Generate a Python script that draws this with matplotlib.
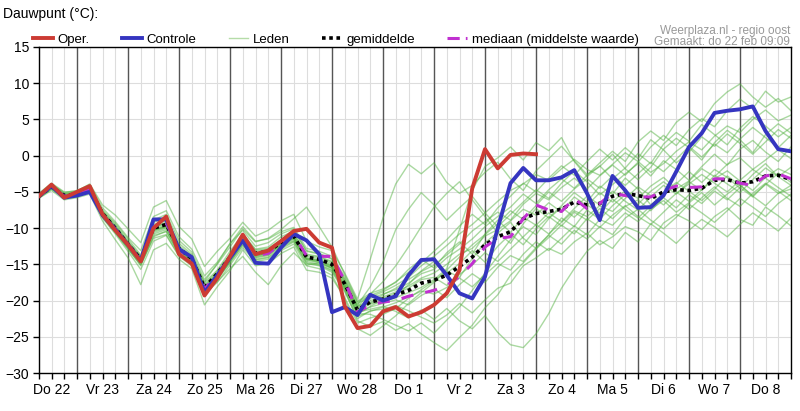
import matplotlib
matplotlib.use("Agg")
import matplotlib.pyplot as plt
from matplotlib.lines import Line2D
import numpy as np

plt.rcParams["font.family"] = ["Liberation Sans", "DejaVu Sans"]

# Axe du temps : heures depuis do 22 00h, pas de 6 h
heures = np.arange(6, 361, 6)
jours = ["Do 22", "Vr 23", "Za 24", "Zo 25", "Ma 26", "Di 27", "Wo 28", "Do 1",
         "Vr 2", "Za 3", "Zo 4", "Ma 5", "Di 6", "Wo 7", "Do 8"]

# Run opérationnel (s'arrête à zo 4 00h)
oper = [-5.6, -4.0, -5.8, -5.0, -4.2, -8.1, -10.3, -12.3, -14.6, -10.0, -8.4, -13.6, -14.9, -19.3, -16.9, -13.9,
        -10.9, -13.6, -13.1, -11.8, -10.4, -10.1, -12.0, -12.7, -20.8, -23.8, -23.5, -21.5, -20.9, -22.2, -21.6,
        -20.6, -19.0, -15.8, -4.5, 0.9, -1.75, 0.1, 0.3, 0.2]

controle = [-5.6, -4.2, -5.8, -5.5, -5.0, -8.2, -10.2, -12.3, -14.5, -8.8, -8.8, -12.9, -14.0, -18.9, -16.5, -14.1,
            -11.7, -14.8, -14.9, -12.7, -10.8, -11.7, -13.6, -21.6, -20.9, -22.0, -19.2, -20.0, -19.4, -16.5, -14.4,
            -14.3, -16.5, -19.0, -19.7, -16.7, -10.0, -3.8, -1.7, -3.4, -3.4, -3.0, -2.0, -5.2, -8.9,
            -2.8, -4.8, -7.2, -7.1, -5.5, -2.2, 1.2, 3.1, 5.9, 6.2, 6.4, 6.8, 3.4, 0.9, 0.6]

gemiddelde = [-5.6, -4.3, -5.5, -5.3, -4.6, -8.0, -10.0, -12.2, -14.3, -10.0, -9.5, -12.8, -14.2, -18.2, -16.3, -14.0,
              -11.5, -13.5, -13.2, -12.0, -11.1, -14.0, -14.3, -15.0, -17.7, -21.3, -20.2, -19.8, -19.2, -18.6, -17.6,
              -17.2, -16.5, -15.3, -14.0, -12.3, -11.2, -10.5, -8.7, -8.0, -7.7, -7.4, -6.4, -6.8, -6.6,
              -5.6, -5.2, -5.5, -5.9, -5.0, -4.7, -4.8, -4.5, -3.4, -3.3, -3.8, -3.6, -2.8, -2.7, -3.3]

mediaan = [-5.6, -4.2, -5.6, -5.3, -4.7, -8.1, -10.1, -12.3, -14.4, -9.6, -9.3, -13.0, -14.3, -18.4, -16.4, -14.1,
           -11.4, -13.8, -13.5, -12.1, -10.9, -13.8, -13.9, -13.9, -17.3, -21.6, -20.6, -20.2, -20.0, -19.4, -19.0,
           -18.6, -17.9, -16.7, -14.9, -12.6, -11.4, -11.2, -8.7, -6.8, -7.5, -7.7, -5.9, -7.3, -6.6,
           -5.2, -5.5, -5.7, -5.7, -4.8, -4.2, -4.4, -4.3, -3.2, -3.2, -3.8, -4.1, -2.8, -2.5, -3.2]

# Membres de l'ensemble (estimés à l'oeil)
leden = [
    [-5.4, -4.0, -5.2, -5.0, -4.3, -7.6, -9.5, -11.8, -13.9, -9.2, -8.6, -12.1, -13.6, -17.5, -15.8, -13.2,
     -10.8, -12.9, -12.6, -11.2, -10.4, -13.1, -13.5, -14.2, -17.0, -20.4, -19.5, -18.8, -17.9, -16.8, -15.2,
     -13.9, -12.4, -10.8, -9.5, -7.9, -6.3, -4.8, -3.9, -2.6, -3.4, -1.8, -0.5, -1.9, -2.7,
     -1.2, 0.4, -0.8, -2.3, -1.1, 0.6, 1.9, 0.8, 2.7, 4.1, 3.2, 5.0, 6.3, 4.8, 5.6],
    [-5.8, -4.6, -5.9, -5.7, -5.0, -8.5, -10.6, -12.9, -15.1, -11.2, -10.4, -13.6, -14.9, -18.9, -17.0, -14.8,
     -12.3, -14.4, -14.1, -12.9, -11.9, -14.9, -15.2, -16.1, -18.8, -22.5, -21.4, -21.2, -20.7, -21.4, -22.3,
     -23.1, -22.0, -20.4, -21.7, -19.9, -18.3, -17.6, -15.2, -14.1, -12.8, -13.6, -11.9, -10.7, -12.3,
     -11.2, -9.8, -10.5, -11.7, -9.3, -8.1, -9.0, -10.2, -8.4, -7.2, -8.8, -9.6, -7.1, -8.3, -9.7],
    [-5.2, -3.8, -5.0, -4.9, -3.9, -6.8, -8.2, -10.1, -12.0, -7.1, -6.2, -9.8, -11.5, -15.3, -13.2, -11.4,
     -9.2, -11.1, -10.3, -9.0, -8.1, -11.8, -12.6, -13.1, -16.2, -19.8, -14.3, -8.6, -3.9, -1.2, -2.5,
     -1.0, -3.7, -5.2, -4.1, -2.3, -0.9, -3.2, -4.8, -2.1, -0.4, 1.3, -0.7, -2.6, -1.5,
     0.2, -1.8, -3.3, -1.6, 0.9, 2.4, 1.1, -0.6, 1.8, 3.5, 2.2, 0.4, 2.9, 4.4, 3.1],
    [-5.9, -4.8, -6.1, -5.8, -5.3, -9.0, -11.6, -14.1, -17.8, -13.0, -12.1, -14.3, -15.6, -20.6, -18.1, -15.9,
     -13.0, -15.2, -14.9, -13.5, -12.6, -15.8, -16.1, -16.9, -19.6, -23.1, -22.4, -21.9, -21.1, -19.7, -18.5,
     -17.3, -15.9, -16.8, -14.2, -12.0, -10.6, -12.1, -9.4, -7.3, -8.6, -6.9, -5.1, -6.4, -4.2,
     -5.3, -3.1, -4.6, -6.8, -5.5, -3.9, -2.2, -3.7, -1.9, -3.0, -4.5, -2.6, -1.1, -2.9, -4.1],
    [-5.7, -4.4, -5.6, -5.4, -4.8, -8.3, -10.4, -12.6, -14.8, -10.8, -10.2, -13.4, -15.1, -19.0, -17.2, -14.6,
     -12.0, -14.1, -13.8, -12.5, -11.7, -14.6, -15.0, -15.8, -18.5, -22.8, -23.6, -22.9, -24.1, -23.2, -24.6,
     -25.8, -26.9, -25.1, -23.4, -21.0, -19.2, -16.5, -14.8, -12.9, -11.3, -9.6, -10.8, -8.7, -9.9,
     -8.2, -6.9, -8.4, -9.5, -7.8, -6.1, -7.4, -5.8, -4.3, -5.9, -7.0, -5.2, -3.8, -4.9, -6.2],
    [-5.5, -4.2, -5.4, -5.2, -4.5, -7.8, -9.8, -12.0, -14.1, -9.8, -9.2, -12.6, -14.0, -18.0, -16.1, -13.8,
     -11.2, -13.2, -12.9, -11.7, -10.8, -13.7, -14.0, -14.7, -17.4, -21.0, -20.3, -19.2, -18.3, -17.1, -16.0,
     -15.1, -13.7, -12.2, -10.4, -9.1, -7.8, -8.9, -6.7, -5.2, -6.1, -4.4, -3.1, -4.6, -2.8,
     -1.3, -2.7, -0.9, 1.2, 2.8, 1.4, 3.6, 5.1, 4.0, 6.2, 7.8, 6.5, 8.9, 7.4, 8.1],
    [-5.6, -4.5, -5.7, -5.5, -4.7, -8.2, -10.2, -12.4, -14.5, -10.4, -9.9, -13.1, -14.5, -18.6, -16.6, -14.3,
     -11.9, -13.9, -13.5, -12.3, -11.4, -14.3, -14.6, -15.4, -18.1, -21.7, -20.9, -20.4, -19.9, -20.6, -19.3,
     -18.4, -19.6, -17.8, -16.3, -17.5, -15.4, -13.8, -14.6, -12.7, -11.0, -12.2, -10.3, -11.5, -9.8,
     -10.9, -8.6, -7.4, -8.9, -10.1, -8.5, -6.7, -7.9, -9.2, -7.6, -5.9, -7.1, -8.4, -6.6, -5.3],
    [-5.6, -4.1, -5.5, -5.2, -4.4, -7.9, -9.9, -12.1, -14.2, -9.9, -9.4, -12.7, -14.1, -18.1, -16.2, -14.0,
     -11.4, -13.4, -13.1, -11.9, -11.0, -13.9, -14.2, -14.9, -17.6, -21.4, -20.5, -20.1, -19.6, -18.9, -18.2,
     -17.1, -15.6, -10.2, -4.8, -1.5, -0.3, 1.2, -0.6, 1.8, 0.7, 2.5, -0.8, -2.9, -1.4,
     -3.2, -1.7, 0.3, -1.1, 1.6, 3.2, 2.0, 4.3, 2.9, 1.5, 3.8, 5.4, 4.1, 2.6, 3.9],
    [-5.5, -4.3, -5.3, -5.4, -4.6, -8.0, -10.1, -12.2, -14.0, -10.3, -9.7, -12.9, -14.4, -18.3, -16.4, -14.2,
     -11.7, -13.6, -13.3, -12.0, -11.2, -14.1, -14.4, -15.1, -17.8, -21.2, -20.0, -19.5, -18.8, -18.0, -16.9,
     -16.2, -15.0, -13.6, -12.8, -11.1, -10.2, -9.0, -7.4, -8.2, -6.5, -7.8, -5.7, -6.9, -5.1,
     -6.4, -4.8, -5.9, -4.2, -3.0, -4.6, -3.5, -1.8, -2.9, -1.2, -0.3, -1.9, -0.6, 0.8, -0.4],
    [-5.8, -4.4, -5.8, -5.6, -4.9, -8.4, -10.5, -12.8, -15.0, -11.4, -10.9, -13.8, -14.7, -18.8, -17.4, -15.6,
     -13.9, -16.1, -17.8, -15.2, -13.4, -15.1, -14.8, -15.5, -18.2, -20.6, -18.1, -14.7, -10.2, -7.4, -5.1,
     -6.8, -8.9, -7.2, -5.6, -7.9, -9.8, -8.1, -6.4, -4.7, -5.9, -3.8, -2.1, -3.6, -5.4,
     -4.0, -2.5, -1.1, -2.8, -0.7, -1.9, -3.4, -1.5, 0.2, -1.3, 0.9, 2.1, 0.5, -0.8, 1.2],
    [-5.4, -4.2, -5.5, -5.3, -4.6, -8.1, -10.0, -12.1, -14.3, -10.1, -9.6, -12.9, -14.3, -18.4, -16.5, -14.1,
     -11.6, -13.7, -13.4, -12.2, -11.3, -14.2, -14.5, -15.3, -18.0, -21.6, -21.2, -20.8, -21.5, -22.4, -21.3,
     -22.6, -21.1, -22.8, -23.9, -22.1, -24.4, -26.1, -26.5, -24.6, -21.8, -18.3, -15.6, -13.2, -11.7,
     -12.8, -10.6, -11.9, -9.4, -10.7, -12.1, -10.3, -8.8, -9.9, -11.2, -9.5, -7.9, -9.1, -10.4, -8.6],
    [-5.6, -4.3, -5.4, -5.1, -4.5, -7.7, -9.7, -11.9, -14.0, -9.5, -9.0, -12.4, -13.8, -17.8, -15.9, -13.6,
     -11.0, -13.0, -12.8, -11.6, -10.7, -13.6, -13.9, -14.6, -17.3, -20.9, -19.7, -19.1, -18.5, -17.6, -16.3,
     -15.7, -14.1, -12.9, -11.5, -9.8, -8.4, -7.1, -5.3, -6.6, -4.7, -3.2, -4.5, -2.7, -1.0,
     0.6, -0.8, 1.9, 3.4, 2.1, 4.6, 6.0, 4.7, 7.2, 8.8, 9.9, 8.1, 6.7, 7.9, 6.2],
    [-5.7, -4.5, -5.6, -5.6, -4.8, -8.3, -10.3, -12.5, -14.7, -10.6, -10.0, -13.2, -14.6, -18.5, -16.8, -14.5,
     -12.1, -14.0, -13.7, -12.4, -11.5, -14.4, -14.8, -15.6, -18.3, -21.9, -20.8, -19.9, -19.4, -17.8, -15.9,
     -14.6, -16.2, -14.9, -13.1, -14.7, -12.5, -10.8, -12.3, -10.1, -8.4, -9.7, -7.8, -8.9, -7.3,
     -8.7, -7.0, -6.1, -7.6, -5.8, -7.2, -5.4, -6.6, -4.9, -6.1, -4.4, -5.7, -3.9, -5.2, -4.6],
    [-5.3, -4.1, -5.3, -5.1, -4.4, -7.5, -9.3, -11.5, -13.7, -8.9, -8.1, -11.7, -13.3, -17.1, -15.0, -12.6,
     -10.1, -11.9, -11.4, -10.2, -8.7, -7.1, -9.8, -12.6, -16.4, -20.1, -19.0, -18.4, -17.5, -15.7, -14.3,
     -15.5, -13.4, -11.9, -13.6, -10.8, -8.9, -10.6, -8.5, -9.6, -7.9, -9.1, -7.3, -5.6, -6.8,
     -4.9, -6.3, -7.5, -5.7, -4.1, -5.3, -3.6, -4.8, -2.7, -3.9, -5.1, -3.3, -1.7, -2.9, -1.6],
    [-5.5, -4.4, -5.6, -5.3, -4.7, -8.1, -10.0, -12.3, -14.4, -10.2, -9.8, -13.0, -14.4, -18.2, -16.4, -14.1,
     -11.6, -13.6, -13.3, -12.1, -11.3, -14.2, -14.5, -15.2, -17.9, -20.8, -19.1, -17.4, -15.2, -12.6, -9.8,
     -7.1, -5.2, -3.6, -6.1, -8.4, -10.7, -9.2, -11.4, -12.8, -10.9, -8.6, -9.8, -7.5, -8.8,
     -6.9, -5.4, -6.7, -4.9, -3.6, -5.0, -6.3, -4.7, -3.2, -2.1, -3.5, -4.8, -3.0, -1.8, -2.6],
    [-5.9, -4.6, -5.8, -5.6, -5.0, -8.6, -10.8, -13.2, -15.7, -11.8, -11.0, -13.9, -15.2, -19.1, -17.5, -15.1,
     -12.7, -14.6, -14.3, -13.1, -12.2, -15.2, -15.6, -16.5, -19.8, -23.9, -24.8, -23.5, -22.1, -20.4, -18.9,
     -17.5, -15.8, -14.0, -12.3, -10.9, -9.4, -7.6, -8.8, -6.9, -5.0, -6.3, -4.6, -3.2, -4.5,
     -2.8, -4.1, -2.5, -0.9, -2.2, -0.5, 1.3, -0.2, 1.6, 0.4, 2.3, 3.9, 2.5, 1.1, 2.8],
    [-5.7, -4.5, -5.7, -5.4, -4.8, -8.4, -10.6, -12.8, -15.2, -11.0, -10.5, -13.5, -14.8, -18.7, -16.9, -14.7,
     -12.4, -14.3, -14.0, -12.7, -11.8, -14.8, -15.1, -15.9, -18.6, -22.2, -21.5, -20.9, -20.3, -19.5, -18.7,
     -19.1, -18.2, -16.9, -18.1, -16.4, -14.9, -15.8, -13.6, -11.9, -13.1, -11.4, -9.7, -10.9, -8.8,
     -9.6, -7.9, -9.1, -7.4, -6.2, -7.8, -6.5, -5.1, -6.8, -5.3, -4.0, -5.6, -6.9, -5.2, -4.1],
    [-5.3, -3.9, -5.1, -4.8, -4.0, -7.2, -9.1, -11.3, -13.1, -8.4, -7.6, -11.2, -12.9, -16.6, -14.7, -12.2,
     -9.8, -11.8, -11.5, -10.5, -9.9, -12.8, -13.2, -13.9, -16.7, -20.2, -19.3, -18.6, -17.4, -16.1, -14.8,
     -13.2, -11.6, -9.7, -8.1, -9.5, -7.2, -5.6, -3.8, -5.0, -3.1, -1.4, -2.7, -0.8, 0.9,
     -0.6, 1.1, -0.4, 2.2, 0.8, -1.0, 0.5, 2.6, 1.3, 3.0, 1.7, 0.2, 1.9, 3.6, 2.4],
    [-5.6, -4.3, -5.6, -5.4, -4.7, -8.1, -10.2, -12.3, -14.4, -10.3, -9.8, -13.1, -14.5, -18.6, -16.7, -14.4,
     -11.9, -13.8, -13.6, -12.3, -11.4, -14.3, -14.7, -15.5, -18.2, -21.8, -21.9, -22.6, -23.4, -24.2, -23.1,
     -24.5, -22.7, -20.9, -18.6, -16.2, -13.9, -11.6, -9.8, -10.9, -8.7, -7.1, -8.5, -6.8, -7.9,
     -6.0, -7.4, -8.6, -6.9, -5.1, -3.7, -4.9, -6.2, -4.6, -2.8, -4.1, -5.5, -4.0, -2.4, -3.7],
    [-5.5, -4.2, -5.4, -5.2, -4.5, -7.9, -9.8, -12.0, -14.2, -9.9, -9.3, -12.7, -14.0, -17.4, -14.9, -12.1,
     -10.3, -12.5, -12.0, -10.8, -10.1, -13.2, -13.6, -14.3, -17.1, -20.7, -20.4, -19.7, -19.0, -18.3, -17.1,
     -16.8, -17.9, -16.4, -15.1, -13.4, -14.6, -12.9, -11.2, -9.5, -10.8, -9.2, -7.6, -8.4, -6.9,
     -7.7, -5.9, -4.3, -5.5, -6.8, -5.2, -3.9, -2.6, -3.8, -5.0, -3.4, -1.9, -3.1, -4.4, -5.6],
]

# Couleurs
rouge, bleu, vert, magenta = "#cc3b33", "#3535c0", "#55b343", "#c030d0"

fig = plt.figure(figsize=(8, 4.11), dpi=100)
ax = fig.add_axes([38.75 / 800, 38 / 411, 752.25 / 800, 326 / 411])

# Membres
for lid in leden:
    ax.plot(heures, lid, color=vert, lw=1.0, alpha=0.5, zorder=2)

# Courbes principales
ax.plot(heures, gemiddelde, color="black", lw=2.6, ls=(0, (1, 1)), zorder=3)
ax.plot(heures, mediaan, color=magenta, lw=2.2, dashes=(4, 4), zorder=4)
ax.plot(heures, controle, color=bleu, lw=2.8, zorder=5)
ax.plot(heures[:len(oper)], oper, color=rouge, lw=2.8, zorder=6)

# Lignes de jour (minuit)
minuits = np.arange(24, 360, 24)
ax.vlines(minuits, -30, 15, color="#555555", lw=1, zorder=1.5)

ax.set_xlim(6, 360)
ax.set_ylim(-30, 15)
ax.set_yticks(np.arange(-30, 16, 5))
ax.set_xticks(np.arange(12, 349, 24))
ax.set_xticklabels(jours)
ax.set_xticks(np.arange(6, 361, 6), minor=True)
ax.grid(which="both", axis="x", color="#dddddd", lw=0.8, zorder=1)
ax.grid(which="major", axis="y", color="#dddddd", lw=0.8, zorder=1)
ax.set_axisbelow(True)
ax.tick_params(which="both", direction="out", length=4, width=1, color="black", labelsize=10, pad=3)
for sp in ax.spines.values():
    sp.set_color("black")
    sp.set_linewidth(1)

# Légende
poignees = [
    Line2D([], [], color=rouge, lw=2.8),
    Line2D([], [], color=bleu, lw=2.8),
    Line2D([], [], color="#b5dca8", lw=1),
    Line2D([], [], color="black", lw=2.6, ls=(0, (1, 1))),
    Line2D([], [], color=magenta, lw=2.2, dashes=(4, 2)),
]
noms = ["Oper.", "Controle", "Leden", "gemiddelde", "mediaan (middelste waarde)"]
ax.legend(poignees, noms, loc="lower left", bbox_to_anchor=(-0.0076, 1.004), ncol=5, frameon=False,
          fontsize=9.5, handlelength=1.5, handletextpad=0.35, columnspacing=2.45,
          borderaxespad=0, borderpad=0)

# Titres
fig.text(3 / 800, 1 - 14 / 411, "Dauwpunt (°C):", fontsize=10, va="center")
fig.text(790 / 800, 1 - 31 / 411, "Weerplaza.nl - regio oost", ha="right", va="center",
         color="#999999", fontsize=8.5)
fig.text(790 / 800, 1 - 42 / 411, "Gemaakt: do 22 feb 09:09", ha="right", va="center",
         color="#999999", fontsize=8.5)

fig.savefig("out.png", dpi=100, facecolor="white")
